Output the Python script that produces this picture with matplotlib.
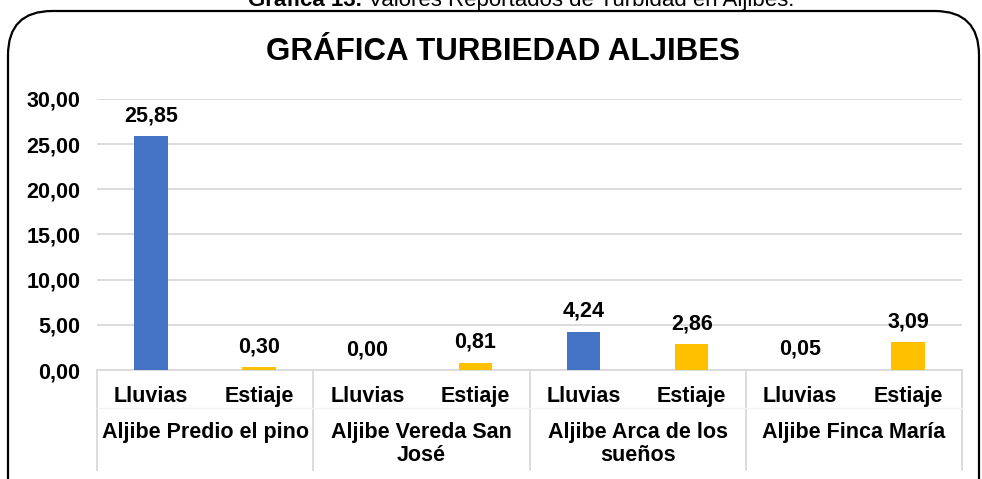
import matplotlib
matplotlib.use("Agg")
import matplotlib.pyplot as plt
from matplotlib.patches import FancyBboxPatch
from matplotlib.lines import Line2D
from matplotlib.ticker import FuncFormatter, MultipleLocator

plt.rcParams['font.family'] = ['Liberation Sans', 'DejaVu Sans']

# datos
grupos = ["Aljibe Predio el pino", "Aljibe Vereda San\nJosé",
          "Aljibe Arca de los\nsueños", "Aljibe Finca María"]
temporadas = ["Lluvias", "Estiaje"]
lluvias = [25.85, 0.00, 4.24, 0.05]
estiaje = [0.30, 0.81, 2.86, 3.09]

AZUL = '#4472C4'
AMARILLO = '#FFC000'
GRIS = '#D9D9D9'
FS = 15.5

W, H = 982, 479
fig = plt.figure(figsize=(W / 100, H / 100), dpi=100)

# borde redondeado del recuadro (se sale por abajo)
caja = FancyBboxPatch((8 / W, -0.2), (979 - 8) / W, (H - 11) / H + 0.2,
                      boxstyle="round,pad=0,rounding_size=0.045",
                      transform=fig.transFigure, fill=False,
                      edgecolor='black', linewidth=1.6, clip_on=False,
                      mutation_aspect=W / H)
fig.add_artist(caja)

# leyenda de la grafica, cortada en el borde superior
fig.text(362 / W, 1 - 6 / H, "Gráfica 13.", ha='right', va='baseline',
         fontsize=16, fontweight='bold')
fig.text(368 / W, 1 - 6 / H, "Valores Reportados de Turbidad en Aljibes.",
         ha='left', va='baseline', fontsize=16)

ax = fig.add_axes([97 / W, (H - 370) / H, (962 - 97) / W, (370 - 99) / H])

# barras
for i in range(len(grupos)):
    for j, (vals, col) in enumerate([(lluvias, AZUL), (estiaje, AMARILLO)]):
        x = 2 * i + j
        v = vals[i]
        ax.bar(x, v, width=0.31, color=col, zorder=3)
        ax.annotate(f"{v:.2f}".replace('.', ','), (x, v), xytext=(0, 7),
                    textcoords='offset points', ha='center', va='bottom',
                    fontsize=FS, fontweight='bold')

ax.set_xlim(-0.5, 2 * len(grupos) - 0.5)
ax.set_ylim(0, 30)
ax.yaxis.set_major_locator(MultipleLocator(5))
ax.yaxis.set_major_formatter(FuncFormatter(lambda v, p: f"{v:.2f}".replace('.', ',')))
ax.grid(axis='y', color=GRIS, linewidth=1.3, zorder=0)
ax.set_axisbelow(True)
for s in ['top', 'right', 'left']:
    ax.spines[s].set_visible(False)
ax.spines['bottom'].set_color(GRIS)
ax.spines['bottom'].set_linewidth(1.3)
ax.tick_params(axis='y', length=0, labelsize=FS, pad=12)
ax.tick_params(axis='x', length=0, labelbottom=False)
for lab in ax.get_yticklabels():
    lab.set_fontweight('bold')

# etiquetas de categorias en dos niveles
trans = ax.get_xaxis_transform()
alto = 370 - 99
for i, g in enumerate(grupos):
    for j, t in enumerate(temporadas):
        ax.text(2 * i + j, -32 / alto, t, transform=trans, ha='center',
                va='baseline', fontsize=FS, fontweight='bold')
    ax.text(2 * i + 0.5, -52 / alto, g, transform=trans, ha='center',
            va='top', fontsize=FS, fontweight='bold', linespacing=1.1)

# separadores verticales y linea tenue entre niveles
for k in range(len(grupos) + 1):
    ax.add_line(Line2D([2 * k - 0.5, 2 * k - 0.5], [0, -100 / alto],
                       transform=trans, color=GRIS, linewidth=1.3,
                       clip_on=False))
ax.add_line(Line2D([-0.5, 2 * len(grupos) - 0.5], [-38 / alto, -38 / alto],
                   transform=trans, color='#F2F2F2', linewidth=1,
                   clip_on=False))

# titulo
fig.text(503 / W, 1 - 52 / H, "GRÁFICA TURBIEDAD ALJIBES", ha='center',
         va='center', fontsize=22.5, fontweight='bold')

fig.savefig("out.png", dpi=100)
